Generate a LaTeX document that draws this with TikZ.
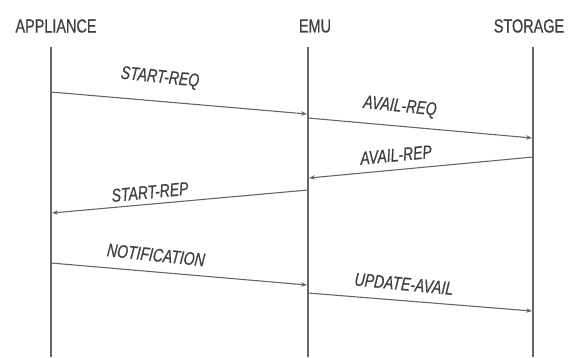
\documentclass[tikz,border=0pt]{standalone}
\usepackage{fontspec}
\newfontfamily\condfont[FakeStretch=0.76,FakeBold=0.6]{Liberation Sans}
\usetikzlibrary{arrows.meta}
\definecolor{ink}{HTML}{404040}
\definecolor{lifeln}{HTML}{666666}
\tikzset{
  actor/.style={text=ink, font=\condfont\fontsize{19}{21}\selectfont, inner sep=0pt, anchor=center},
  life/.style={draw=lifeln, line width=1.1pt},
  msg/.style={draw=lifeln, line width=1.1pt, -{Stealth[length=6pt,width=4.5pt]}},
  lbl/.style={text=ink, font=\condfont\fontsize{18.5}{20}\itshape\selectfont, inner sep=0pt, anchor=center}
}
\begin{document}
\begin{tikzpicture}[x=1pt,y=-1pt]
\useasboundingbox (0,0) rectangle (568,357);
% actors
\node[actor] (app) at (56,26) {APPLIANCE};
\node[actor] (emu) at (315,26) {EMU};
\node[actor] (sto) at (529,26) {STORAGE};
% lifelines
\coordinate (appT) at (51,47);  \coordinate (appB) at (51,357);
\coordinate (emuT) at (308,47); \coordinate (emuB) at (308,357);
\coordinate (stoT) at (533,47); \coordinate (stoB) at (533,357);
\draw[life] (appT) -- (appB);
\draw[life] (emuT) -- (emuB);
\draw[life] (stoT) -- (stoB);
% message end points
\coordinate (m1a) at (51,92);   \coordinate (m1b) at (307,114);
\coordinate (m2a) at (308,118); \coordinate (m2b) at (532,138);
\coordinate (m3a) at (533,157); \coordinate (m3b) at (309,178);
\coordinate (m4a) at (308,190); \coordinate (m4b) at (52,213);
\coordinate (m5a) at (51,263);  \coordinate (m5b) at (307,285);
\coordinate (m6a) at (308,293); \coordinate (m6b) at (532,311);
\draw[msg] (m1a) -- (m1b);
\draw[msg] (m2a) -- (m2b);
\draw[msg] (m3a) -- (m3b);
\draw[msg] (m4a) -- (m4b);
\draw[msg] (m5a) -- (m5b);
\draw[msg] (m6a) -- (m6b);
% labels
\node[lbl, rotate=-6] (l1) at (160,78) {START-REQ};
\node[lbl, rotate=-6] (l2) at (400,107) {AVAIL-REQ};
\node[lbl, rotate=5.5] (l3) at (396,155) {AVAIL-REP};
\node[lbl, rotate=5.5] (l4) at (150,192) {START-REP};
\node[lbl, rotate=-6] (l5) at (156,255) {NOTIFICATION};
\node[lbl, rotate=-5.5] (l6) at (404,284) {UPDATE-AVAIL};
\end{tikzpicture}
\end{document}
